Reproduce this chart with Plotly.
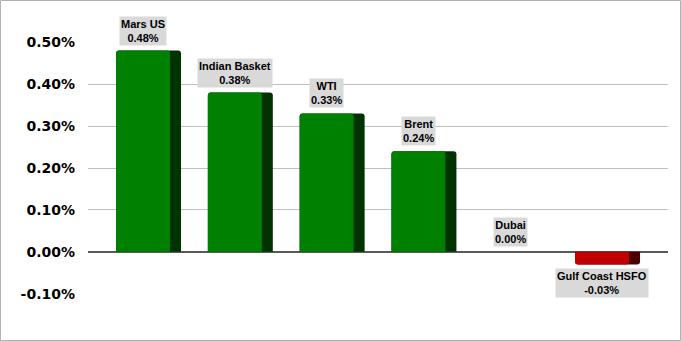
import plotly.graph_objects as go

categories = ["Mars US", "Indian Basket", "WTI", "Brent", "Dubai", "Gulf Coast HSFO"]
values = [0.48, 0.38, 0.33, 0.24, 0.00, -0.03]
tick_vals = [-0.10, 0.00, 0.10, 0.20, 0.30, 0.40, 0.50]

idx = list(range(len(categories)))
front_col = ["#008000" if v >= 0 else "#C00000" for v in values]
side_col = ["#003300" if v >= 0 else "#4A0000" for v in values]

fig = go.Figure()
fig.add_trace(go.Bar(x=[i + 0.0054 for i in idx], y=values, width=0.708,
                     marker=dict(color=side_col, line=dict(width=0), cornerradius=3),
                     hoverinfo="skip"))
fig.add_trace(go.Bar(x=[i - 0.0545 for i in idx], y=values, width=0.588,
                     marker=dict(color=front_col, line=dict(width=0), cornerradius=3),
                     hoverinfo="skip"))

for i, c, v in zip(idx, categories, values):
    fig.add_annotation(x=i - 0.0545, y=v, xref="x", yref="y",
                       text=f"<b>{c}</b><br><b>{v:.2f}%</b>",
                       showarrow=False, bgcolor="#D9D9D9", borderpad=1,
                       yanchor="bottom" if v >= 0 else "top",
                       yshift=5 if v >= 0 else -4,
                       font=dict(family="Liberation Sans", size=11, color="#000000"))

fig.add_shape(type="rect", xref="paper", yref="paper",
              x0=-0.1509, x1=1.0216, y0=-0.1845, y1=1.1647,
              line=dict(color="#B0B0B0", width=1), layer="below")

fig.update_layout(
    width=681, height=341,
    margin=dict(l=88, r=13, t=42, b=47),
    paper_bgcolor="white", plot_bgcolor="white",
    barmode="overlay", showlegend=False,
    xaxis=dict(range=[-0.654, 5.664], visible=False),
    yaxis=dict(range=[-0.1005, 0.5005], tickvals=tick_vals,
               ticktext=[f"{t:.2f}%" for t in tick_vals],
               showgrid=True, gridcolor="#BFBFBF", gridwidth=1,
               zeroline=True, zerolinecolor="#595959", zerolinewidth=2,
               ticks="", ticklabelstandoff=12,
               tickfont=dict(family="DejaVu Sans", size=14, color="#000000", weight="bold")),
)

fig.write_html("out.html")
